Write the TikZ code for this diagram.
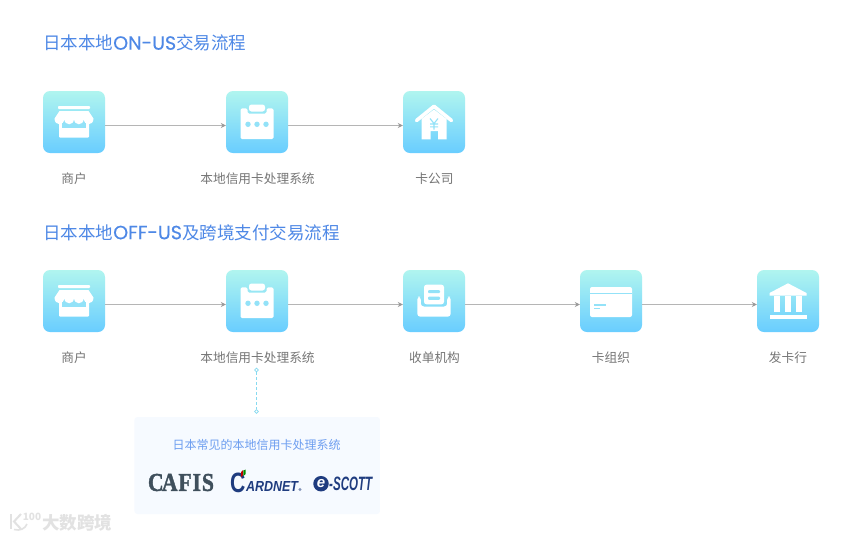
\documentclass[tikz,border=0pt]{standalone}
\usepackage{fontspec}
\usepackage{graphicx}
\setmainfont{Noto Sans CJK SC}
\newfontfamily\logoserif{Liberation Serif}[FakeBold=1.6]
\newfontfamily\logosans{Liberation Sans}
\newfontfamily\headlatin{Poppins}[FakeBold=0.35,Scale=1.09]
\definecolor{titleblue}{HTML}{4E88E6}
\definecolor{softblue}{HTML}{6D9EF0}
\definecolor{labelgray}{HTML}{757575}
\definecolor{tiletop}{HTML}{B0F5EF}
\definecolor{tilebot}{HTML}{69CDFF}
\definecolor{tilemid}{HTML}{93E2F8}
\definecolor{arrowgray}{HTML}{B5B5B5}
\definecolor{panelblue}{HTML}{F6FAFF}
\definecolor{dashblue}{HTML}{86DAF0}
\definecolor{cafisc}{HTML}{3F4F5C}
\definecolor{navyc}{HTML}{1F3C7F}
\definecolor{wmgray}{HTML}{E2E2E2}
\usetikzlibrary{arrows.meta}
\tikzset{
  tile/.style={rounded corners=7pt,minimum size=62pt,inner sep=0pt,top color=tiletop,bottom color=tilebot,draw=none},
  steplabel/.style={font=\fontsize{12.7pt}{14pt}\selectfont,text=labelgray,inner sep=0pt},
  headline/.style={font=\fontsize{17.5pt}{20pt}\selectfont,text=titleblue,anchor=west,inner sep=0pt},
  flow/.style={draw=arrowgray,line width=1.4pt,-{Stealth[length=5pt,width=5pt,color=gray!80]}},
  dotend/.style={circle,draw=dashblue,fill=white,line width=.7pt,minimum size=3.6pt,inner sep=0pt},
}
\newcommand{\shopicon}[1]{\begin{scope}[shift={(#1.center)}]
  \fill[white,rounded corners=.8pt] (-16,-16) rectangle (16,-13);
  \fill[white,rounded corners=1pt] (-15,-3) rectangle (15,15.7);
  \fill[tilemid] (-12,-3) rectangle (12,5.7);
  \fill[white] (-14.5,-11) -- (14.5,-11) -- (19.5,-3.5)
     .. controls (19.5,4.2) and (9.75,4.2) .. (9.75,-3.5)
     .. controls (9.75,4.2) and (0,4.2) .. (0,-3.5)
     .. controls (0,4.2) and (-9.75,4.2) .. (-9.75,-3.5)
     .. controls (-9.75,4.2) and (-19.5,4.2) .. (-19.5,-3.5) -- cycle;
\end{scope}}
\newcommand{\clipicon}[1]{\begin{scope}[shift={(#1.center)}]
  \fill[white,rounded corners=1.5pt] (-16.5,-13.7) -- (-9.5,-13.7) -- (-9.5,-8.5) -- (9.5,-8.5) -- (9.5,-13.7) -- (16.5,-13.7) -- (16.5,17) -- (-16.5,17) -- cycle;
  \fill[white,rounded corners=2.5pt] (-8,-17.5) rectangle (8,-10.5);
  \foreach \q in {-9,0,9} \fill[tilemid] (\q,2.3) circle (2.7);
\end{scope}}
\newcommand{\houseicon}[1]{\begin{scope}[shift={(#1.center)}]
  \fill[white] (-12.5,-3) -- (0,-12.5) -- (12.5,-3) -- (12.5,17.3) -- (4,17.3) -- (4,9) -- (-3.5,9) -- (-3.5,17.3) -- (-12.5,17.3) -- cycle;
  \draw[white,line width=3.6pt,line cap=round,line join=round] (-17.5,-1.5) -- (0,-15.7) -- (17.5,-1.5);
  \draw[tilemid,line width=1.1pt] (-4,-3.5) -- (0,1.5) -- (4,-3.5) (0,1.5) -- (0,7.5) (-4,2) -- (4,2) (-4,4.8) -- (4,4.8);
\end{scope}}
\newcommand{\trayicon}[1]{\begin{scope}[shift={(#1.center)}]
  \fill[white,rounded corners=3pt] (-16.7,-4.3) -- (-13.2,-4.3) -- (-13.2,5.5) -- (13.2,5.5) -- (13.2,-4.3) -- (16.7,-4.3) -- (16.7,15.7) -- (-16.7,15.7) -- cycle;
  \fill[white,rounded corners=2.5pt] (-10,-16.3) rectangle (10,3.3);
  \fill[tilemid,rounded corners=1pt] (-6,-11) rectangle (6,-8);
  \fill[tilemid,rounded corners=1pt] (-6,-4.3) rectangle (6,-1.2);
\end{scope}}
\newcommand{\cardicon}[1]{\begin{scope}[shift={(#1.center)}]
  \fill[white,rounded corners=2pt] (-21,-14) rectangle (21,16);
  \fill[tilemid] (-21,-8.4) rectangle (21,-7.4);
  \fill[tilemid] (-17.5,3.2) rectangle (-5.5,4.5);
  \fill[tilemid] (-17.5,6.6) rectangle (-11.5,7.9);
\end{scope}}
\newcommand{\bankicon}[1]{\begin{scope}[shift={(#1.center)}]
  \fill[white] (0,-17.7) -- (18.5,-8) -- (18.5,-5.3) -- (-18.5,-5.3) -- (-18.5,-8) -- cycle;
  \fill[white] (-14,-5.3) rectangle (-7.7,11);
  \fill[white] (-3.2,-5.3) rectangle (3.2,11);
  \fill[white] (7.7,-5.3) rectangle (14,11);
  \fill[white] (-18.5,14) rectangle (18.5,18);
\end{scope}}
\begin{document}
\begin{tikzpicture}[x=1pt,y=-1pt]
\useasboundingbox[fill=white] (0,0) rectangle (851,539);
% headings
\node[headline] (h1) at (43,43) {日本本地{\headlatin ON-US}交易流程};
\node[headline] (h2) at (43,232.5) {日本本地{\headlatin OFF-US}及跨境支付交易流程};
% row 1
\node[tile] (a1) at (74,122) {};
\node[tile] (a2) at (257,122) {};
\node[tile] (a3) at (434,122) {};
\node[steplabel] (la1) at (74,178.5) {商户};
\node[steplabel] (la2) at (257.5,178.5) {本地信用卡处理系统};
\node[steplabel] (la3) at (434.5,178.5) {卡公司};
\shopicon{a1}\clipicon{a2}\houseicon{a3}
\draw[flow] ([yshift=-3.5pt]a1.east) -- ([yshift=-3.5pt]a2.west);
\draw[flow] ([yshift=-3.5pt]a2.east) -- ([yshift=-3.5pt]a3.west);
% row 2
\node[tile] (b1) at (74,301) {};
\node[tile] (b2) at (257,301) {};
\node[tile] (b3) at (434,301) {};
\node[tile] (b4) at (611,301) {};
\node[tile] (b5) at (788,301) {};
\node[steplabel] (lb1) at (74,357.5) {商户};
\node[steplabel] (lb2) at (257.5,357.5) {本地信用卡处理系统};
\node[steplabel] (lb3) at (434.5,357.5) {收单机构};
\node[steplabel] (lb4) at (611,357.5) {卡组织};
\node[steplabel] (lb5) at (788,357.5) {发卡行};
\shopicon{b1}\clipicon{b2}\trayicon{b3}\cardicon{b4}\bankicon{b5}
\draw[flow] ([yshift=-3.5pt]b1.east) -- ([yshift=-3.5pt]b2.west);
\draw[flow] ([yshift=-3.5pt]b2.east) -- ([yshift=-3.5pt]b3.west);
\draw[flow] ([yshift=-3.5pt]b3.east) -- ([yshift=-3.5pt]b4.west);
\draw[flow] ([yshift=-3.5pt]b4.east) -- ([yshift=-3.5pt]b5.west);
% panel
\node[fill=panelblue,rounded corners=3pt,minimum width=245.5pt,minimum height=97pt,inner sep=0pt] (panel) at (257.2,465.5) {};
\node[dotend] (d1) at (256.5,370) {};
\node[dotend] (d2) at (256.5,411.5) {};
\draw[dashblue,line width=1.2pt,densely dashed] (d1) -- (d2);
\node[font=\fontsize{12pt}{14pt}\selectfont,text=softblue,inner sep=0pt] (ptitle) at (256.5,444.5) {日本常见的本地信用卡处理系统};
% logos
\node[text=cafisc,inner sep=0pt] (logo1) at (181,482.5) {\resizebox{66pt}{17pt}{\logoserif\bfseries C\kern-.08em A\kern.04em F\kern.04em I\kern.04em S}};
\node[text=navyc,inner sep=0pt,anchor=west] (logoC) at (230,482.5) {\resizebox{15.3pt}{19.5pt}{\logosans\bfseries C}};
\fill[red!75!black] (241,472) -- (243,470) -- (243,475) -- (241,477) -- cycle;
\fill[green!55!black] (243.4,470.5) -- (245.6,469.5) -- (245.6,474) -- (243.4,476) -- cycle;
\node[text=navyc,inner sep=0pt,anchor=west] (logo2) at (245.8,486.7) {\resizebox{52pt}{10pt}{\logosans\bfseries\itshape ARDNET}};
\fill[navyc!55] (300,489.5) circle (1.6);
\node[circle,fill=navyc,text=white,inner sep=0pt,minimum size=15.5pt,font=\logosans\bfseries\itshape\fontsize{15pt}{15pt}\selectfont] (logoe) at (321,483.7) {e};
\node[text=navyc,inner sep=0pt,anchor=west] (logo3) at (329,483.7) {\resizebox{43pt}{13.5pt}{\logosans\bfseries\itshape -SCOTT}};
% watermark
\draw[wmgray,line width=2pt] (11,514) -- (11,529);
\draw[wmgray,line width=2pt] (21,514) -- (14,521.5) -- (21,529);
\draw[wmgray,line width=1.6pt] (14,529.5) .. controls (20,531) and (25,529) .. (27,524);
\node[text=wmgray,font=\fontsize{10pt}{10pt}\selectfont\bfseries,inner sep=0pt] (wm100) at (32,516.5) {100};
\node[text=wmgray,font=\fontsize{17.5pt}{20pt}\selectfont\bfseries,anchor=west,inner sep=0pt] (wm) at (42,522.5) {大数跨境};
\end{tikzpicture}
\end{document}
